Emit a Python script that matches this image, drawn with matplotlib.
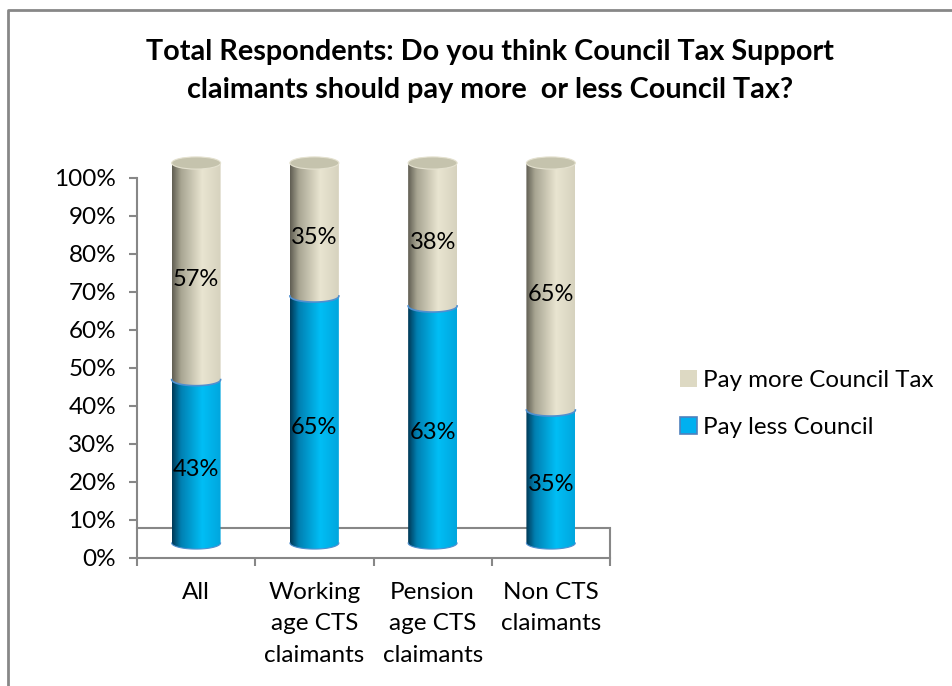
import matplotlib.pyplot as plt
import numpy as np
from matplotlib.lines import Line2D
from matplotlib.patches import Ellipse, Patch, PathPatch
from matplotlib.path import Path
from matplotlib.transforms import ScaledTranslation

plt.rcParams['font.family'] = ['Lato', 'DejaVu Sans']

# survey results
categories = ['All', 'Working\nage CTS\nclaimants', 'Pension\nage CTS\nclaimants', 'Non CTS\nclaimants']
pay_less = [43, 65, 63, 35]
pay_more = [57, 35, 38, 65]
series_names = ['Pay more Council Tax', 'Pay less Council']
title = 'Total Respondents: Do you think Council Tax Support\nclaimants should pay more  or less Council Tax?'

BEIGE = '#ddd9c3'
BLUE = '#00b0f0'
GREY = '#878787'

# horizontal shading across a cylinder (pos, rgb)
beige_shade = [(0.0, (98, 96, 84)), (0.18, (168, 165, 146)), (0.62, (233, 229, 209)), (1.0, (214, 210, 190))]
blue_shade = [(0.0, (0, 58, 88)), (0.18, (0, 128, 178)), (0.62, (0, 190, 245)), (1.0, (0, 166, 222))]


def shade_row(stops, n=64):
    pos = np.array([s[0] for s in stops])
    cols = np.array([s[1] for s in stops], dtype=float) / 255
    t = np.linspace(0, 1, n)
    row = np.stack([np.interp(t, pos, cols[:, k]) for k in range(3)], axis=1)
    return row[np.newaxis, :, :]


def body_path(xc, y0, y1, a, b):
    t = np.linspace(np.pi, 2 * np.pi, 60)
    arc = np.column_stack([xc + a * np.cos(t), y0 + b * np.sin(t)])
    verts = np.vstack([[xc - a, y1], arc, [xc + a, y1], [xc - a, y1]])
    return Path(verts, closed=True)


def draw_segment(ax, xc, y0, y1, a, b, stops, tr, z):
    path = body_path(xc, y0, y1, a, b)
    im = ax.imshow(shade_row(stops), extent=(xc - a, xc + a, y0 - b, y1), aspect='auto',
                   interpolation='bilinear', transform=tr, zorder=z)
    clip = PathPatch(path, transform=tr, facecolor='none', edgecolor='none')
    ax.add_patch(clip)
    im.set_clip_path(clip)
    im.set_clip_box(ax.figure.bbox)
    return path


fig = plt.figure(figsize=(9.52, 6.86), dpi=100)
ax = fig.add_axes([137 / 952, 128 / 686, 473 / 952, 380 / 686])

x = np.arange(len(categories))
half_w = 0.207
rim = 1.6
cyl_tr = ax.transData + ScaledTranslation(0, 0.15, fig.dpi_scale_trans)
floor_tr = ax.transData + ScaledTranslation(0, 0.30, fig.dpi_scale_trans)
label_tr = ax.transData + ScaledTranslation(0, 0.07, fig.dpi_scale_trans)

# floor of the 3d plot
ax.plot([-0.5, 3.5], [0, 0], color=GREY, lw=1.5, transform=floor_tr, clip_on=False)
ax.annotate('', xy=(3.5, 0), xycoords='data', xytext=(0, 30), textcoords='offset pixels',
            arrowprops=dict(arrowstyle='-', color=GREY, lw=1.5, shrinkA=0, shrinkB=0))

t = np.linspace(np.pi, 2 * np.pi, 60)
for i in range(len(categories)):
    total = pay_less[i] + pay_more[i]
    less = pay_less[i] / total * 100
    draw_segment(ax, x[i], 0, less, half_w, rim, blue_shade, cyl_tr, 3)
    ax.plot(x[i] + half_w * np.cos(t), rim * np.sin(t), color='#4f8fd0', lw=0.8,
            transform=cyl_tr, zorder=3.5, clip_on=False)
    draw_segment(ax, x[i], less, 100, half_w, rim, beige_shade, cyl_tr, 4)
    ax.plot(x[i] + half_w * np.cos(t), less + rim * np.sin(t), color='#4f8fd0', lw=1.2,
            transform=cyl_tr, zorder=4.5, clip_on=False)
    ax.add_patch(Ellipse((x[i], 100), 2 * half_w, 2 * rim, facecolor='#c5c3ad', edgecolor='#e4e1cf',
                         lw=0.8, transform=cyl_tr, zorder=5, clip_on=False))
    ax.text(x[i], less / 2, f'{pay_less[i]}%', ha='center', va='center', fontsize=17,
            transform=label_tr, zorder=6)
    ax.text(x[i], less + (100 - less) / 2, f'{pay_more[i]}%', ha='center', va='center', fontsize=17,
            transform=label_tr, zorder=6)

ax.set_xlim(-0.5, 3.5)
ax.set_ylim(0, 100)
ax.set_yticks(np.arange(0, 101, 10))
ax.set_yticklabels([f'{v}%' for v in range(0, 101, 10)], fontsize=17.5)
ax.set_xticks(np.arange(-0.5, 3.6, 1))
ax.set_xticklabels([])
ax.set_xticks(x, minor=True)
ax.set_xticklabels(categories, minor=True, fontsize=17.5, linespacing=1.62)
ax.tick_params(axis='both', which='major', direction='out', length=6, width=1.5, color=GREY)
ax.tick_params(axis='x', which='minor', length=0, pad=17)
ax.tick_params(axis='y', pad=9)
for side in ['top', 'right']:
    ax.spines[side].set_visible(False)
for side in ['left', 'bottom']:
    ax.spines[side].set_color(GREY)
    ax.spines[side].set_linewidth(1.5)

handles = [Patch(facecolor=BEIGE, edgecolor='none'),
           Patch(facecolor=BLUE, edgecolor='#4f81bd', lw=1.2)]
fig.legend(handles, series_names, loc='center left', bbox_to_anchor=(658 / 952, 1 - 404 / 686),
           frameon=False, fontsize=17.4, handlelength=0.7, handleheight=0.7, handletextpad=0.25,
           labelspacing=1.05)

fig.text(490 / 952, 1 - 71 / 686, title, ha='center', va='center', fontsize=20.7, fontweight='bold',
         linespacing=1.55)

# chart frame
fig.add_artist(Line2D([8 / 952, 8 / 952, 1], [0, 1 - 10 / 686, 1 - 10 / 686], color=GREY, lw=2,
                      transform=fig.transFigure))

fig.savefig('out.png', dpi=100)
